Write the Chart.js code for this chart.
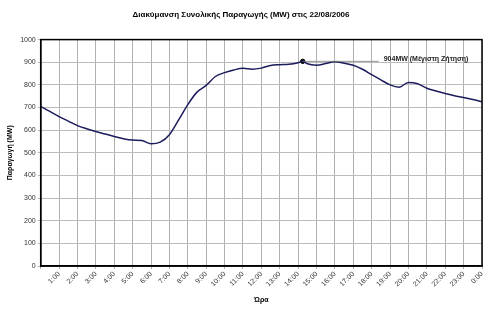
<!DOCTYPE html>
<html>
<head>
<meta charset="utf-8">
<script src="https://cdn.jsdelivr.net/npm/chart.js@4/dist/chart.umd.min.js"></script>
<style>
  html, body { margin: 0; padding: 0; background: #fff; }
  #wrap { width: 500px; height: 312px; }
</style>
</head>
<body>
<div id="wrap"><canvas id="productionChart"></canvas></div>
<script>
// time in hours after midnight, production in MW
const hours = [0, 0.5, 1, 1.5, 2, 2.5, 3, 3.5, 4, 4.5, 5, 5.5, 6, 6.5, 7, 7.5, 8, 8.5, 9, 9.5,
    10, 10.5, 11, 11.5, 12, 12.5, 13, 13.5, 14, 14.25, 14.5, 15, 15.5, 16, 16.5, 17, 17.5, 18,
    18.5, 19, 19.5, 20, 20.5, 21, 21.5, 22, 22.5, 23, 23.5, 24];
const production = [705, 683, 660, 640, 620, 606, 594, 583, 572, 562, 556, 554, 540, 547, 580, 645,
    713, 768, 798, 837, 854, 866, 873, 869, 874, 886, 889, 891, 898, 904, 893, 887, 894, 902,
    896, 887, 869, 845, 822, 800, 790, 811, 805, 785, 773, 762, 752, 744, 735, 725];
const hourLabels = ['1:00', '2:00', '3:00', '4:00', '5:00', '6:00', '7:00', '8:00', '9:00', '10:00',
    '11:00', '12:00', '13:00', '14:00', '15:00', '16:00', '17:00', '18:00', '19:00', '20:00',
    '21:00', '22:00', '23:00', '0:00'];
const peakHour = 14.25;
const peakValue = 904;
const peakLabel = '904MW (Μέγιστη Ζήτηση)';

const points = hours.map((h, i) => ({ x: h, y: production[i] }));

const font = 'Liberation Sans, Arial, sans-serif';

const frame = {
    id: 'frame',
    afterDatasetsDraw(chart) {
        const { ctx, chartArea: a } = chart;
        ctx.save();
        ctx.strokeStyle = '#000';
        ctx.lineWidth = 1.5;
        ctx.strokeRect(a.left, a.top, a.right - a.left, a.bottom - a.top);

        // leader line + label for the peak
        const px = chart.scales.x.getPixelForValue(peakHour);
        const py = chart.scales.y.getPixelForValue(peakValue);
        ctx.strokeStyle = '#777';
        ctx.lineWidth = 0.8;
        ctx.beginPath();
        ctx.moveTo(px, py);
        ctx.lineTo(px + 76, py);
        ctx.stroke();
        ctx.fillStyle = '#222';
        ctx.font = 'bold 7px ' + font;
        ctx.textBaseline = 'middle';
        ctx.fillText(peakLabel, px + 81, py - 2);
        ctx.restore();
    }
};

new Chart(document.getElementById('productionChart'), {
    type: 'line',
    data: {
        datasets: [
            {
                data: points,
                borderColor: '#1c1c5c',
                borderWidth: 1.5,
                pointRadius: 0,
                cubicInterpolationMode: 'monotone'
            },
            {
                data: [{ x: peakHour, y: peakValue }],
                pointRadius: 2.2,
                pointBackgroundColor: '#000',
                pointBorderColor: '#000',
                showLine: false
            }
        ]
    },
    options: {
        responsive: true,
        maintainAspectRatio: false,
        animation: false,
        layout: { padding: { left: 0, right: 18, top: 0, bottom: 0 } },
        plugins: {
            legend: { display: false },
            tooltip: { enabled: false },
            title: {
                display: true,
                text: 'Διακύμανση Συνολικής Παραγωγής (MW) στις 22/08/2006',
                color: '#000',
                font: { family: font, size: 8, weight: 'bold' },
                padding: { top: 10, bottom: 20 }
            }
        },
        scales: {
            x: {
                type: 'linear',
                min: 0,
                max: 24,
                afterFit: s => { s.height = 46; },
                ticks: {
                    stepSize: 1,
                    autoSkip: false,
                    maxRotation: 45,
                    minRotation: 45,
                    color: '#333',
                    font: { family: font, size: 7 },
                    padding: 1,
                    callback: v => (v >= 1 ? hourLabels[v - 1] : '')
                },
                grid: { color: '#b0b0b0', lineWidth: 1, tickLength: 3 },
                border: { color: '#000', width: 1.5 },
                title: {
                    display: true,
                    text: 'Ώρα',
                    color: '#000',
                    font: { family: font, size: 7, weight: 'bold' },
                    padding: { top: 0, bottom: 8 }
                }
            },
            y: {
                min: 0,
                max: 1000,
                afterFit: s => { s.width = 40.7; },
                ticks: {
                    stepSize: 50,
                    color: '#333',
                    font: { family: font, size: 7 },
                    padding: 2,
                    callback: v => (v % 100 === 0 ? v : '')
                },
                grid: { color: '#bcbcbc', lineWidth: 1, tickLength: 3 },
                border: { color: '#000', width: 1.5 },
                title: {
                    display: true,
                    text: 'Παραγωγή (MW)',
                    color: '#000',
                    font: { family: font, size: 7, weight: 'bold' },
                    padding: { top: 6, bottom: 0 }
                }
            }
        }
    },
    plugins: [frame]
});
</script>
</body>
</html>
